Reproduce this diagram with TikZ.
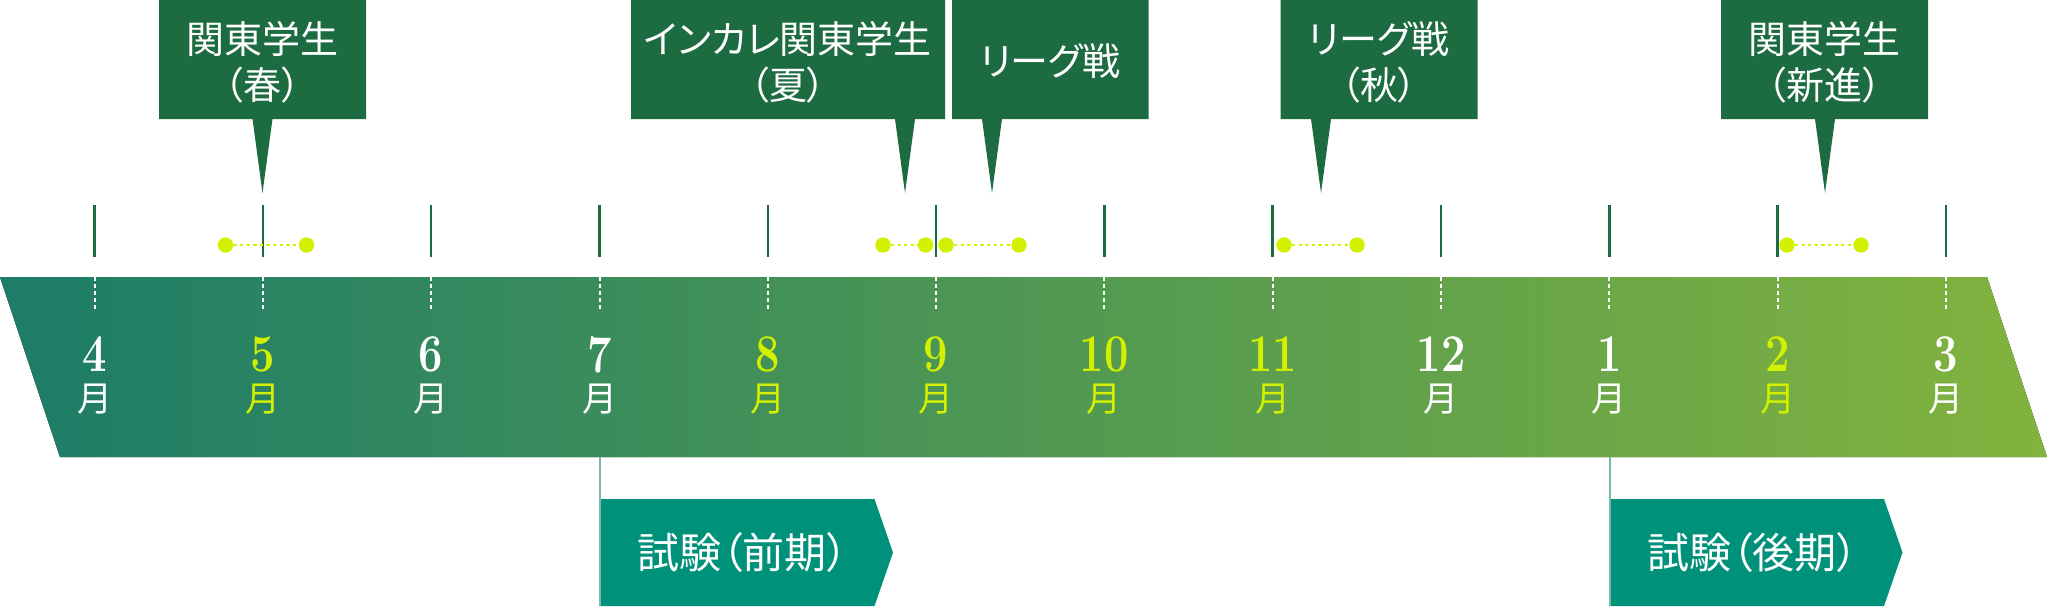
\documentclass[tikz,border=0pt]{standalone}
\usepackage{fontspec}
\newfontfamily\jp[CharacterWidth=AlternateProportional]{Noto Sans CJK JP}
\definecolor{bandL}{RGB}{29,124,104}
\definecolor{bandR}{RGB}{130,179,62}
\definecolor{calloutG}{RGB}{29,107,64}
\definecolor{examT}{RGB}{0,145,123}
\definecolor{hiY}{RGB}{210,240,0}
\definecolor{connT}{RGB}{120,185,172}
\tikzset{
  tickline/.style={draw=calloutG,line width=2.5pt},
  bandtick/.style={draw=white,line width=2pt,dash pattern=on 4pt off 3pt},
  dotmark/.style={circle,fill=hiY,inner sep=0pt,minimum size=15.4pt},
  dotline/.style={draw=hiY,line width=1.3pt,dash pattern=on 3.3pt off 3.3pt},
  callouttext/.style={text=white,align=center,inner sep=0pt,font=\jp\fontsize{38}{46}\selectfont},
  numtext/.style={inner sep=0pt,font=\fontsize{53}{53}\selectfont\bfseries},
  monthtext/.style={inner sep=0pt,font=\jp\fontsize{35}{35}\selectfont},
  examtext/.style={text=white,inner sep=0pt,font=\jp\fontsize{42}{42}\selectfont},
  conn/.style={draw=connT,line width=2pt},
}
\newcommand\mycallout[6]{%
  \fill[calloutG] (#2,0) -- (#3,0) -- (#3,119) -- (#4+10,119) -- (#4,193) -- (#4-10,119) -- (#2,119) -- cycle;
  \node[callouttext] (#1) at ({(#2+#3)/2},#5) {#6};
}
\newcommand\myexam[5]{%
  \fill[examT] (#2,499) -- (#3,499) -- (#3+18.5,552.5) -- (#3,606) -- (#2,606) -- cycle;
  \node[examtext] (#1) at ({(#2+#3)/2+6},552.5) {#5};
  \coordinate (#1top) at (#2+0.5,457);
  \coordinate (#1bot) at (#2+0.5,606);
  \draw[conn] (#1top) -- (#1bot);
}
\begin{document}
\begin{tikzpicture}[x=1pt,y=-1pt]
\useasboundingbox (0,0) rectangle (2048,606);
% band
\fill[left color=bandL,right color=bandR] (0,277) -- (1987,277) -- (2047,457) -- (60,457) -- cycle;
% months
\foreach \i/\lab/\col in {0/4/white,1/5/hiY,2/6/white,3/7/white,4/8/hiY,5/9/hiY,6/10/hiY,7/11/hiY,8/12/white,9/1/white,10/2/hiY,11/3/white}{
  \pgfmathsetmacro\xx{94.6+168.3*\i}
  \draw[tickline] (\xx,205) -- (\xx,257);
  \draw[bandtick] (\xx,277) -- (\xx,310);
  \node[numtext,text=\col] (n\i) at (\xx,354.5) {\scalebox{0.82}[1]{\lab}};
  \node[monthtext,text=\col] (m\i) at (\xx,399) {月};
}
% dots
\foreach \a/\b [count=\k] in {225.5/306.5,883/925.5,946/1019,1284/1357,1787/1861}{
  \node[dotmark] (da\k) at (\a,245) {};
  \node[dotmark] (db\k) at (\b,245) {};
  \draw[dotline] (da\k) -- (db\k);
}
% callouts
\mycallout{c1}{159}{366}{262.5}{62}{関東学生\\（春）}
\mycallout{c2}{631}{945}{905}{62}{インカレ関東学生\\（夏）}
\mycallout{c3}{952}{1148.5}{992}{61}{リーグ戦}
\mycallout{c4}{1280.5}{1477.5}{1321}{62}{リーグ戦\\（秋）}
\mycallout{c5}{1721}{1928}{1825}{62}{関東学生\\（新進）}
% exams
\myexam{e1}{599}{874.5}{}{試験（前期）}
\myexam{e2}{1609}{1884}{}{試験（後期）}
\end{tikzpicture}
\end{document}
